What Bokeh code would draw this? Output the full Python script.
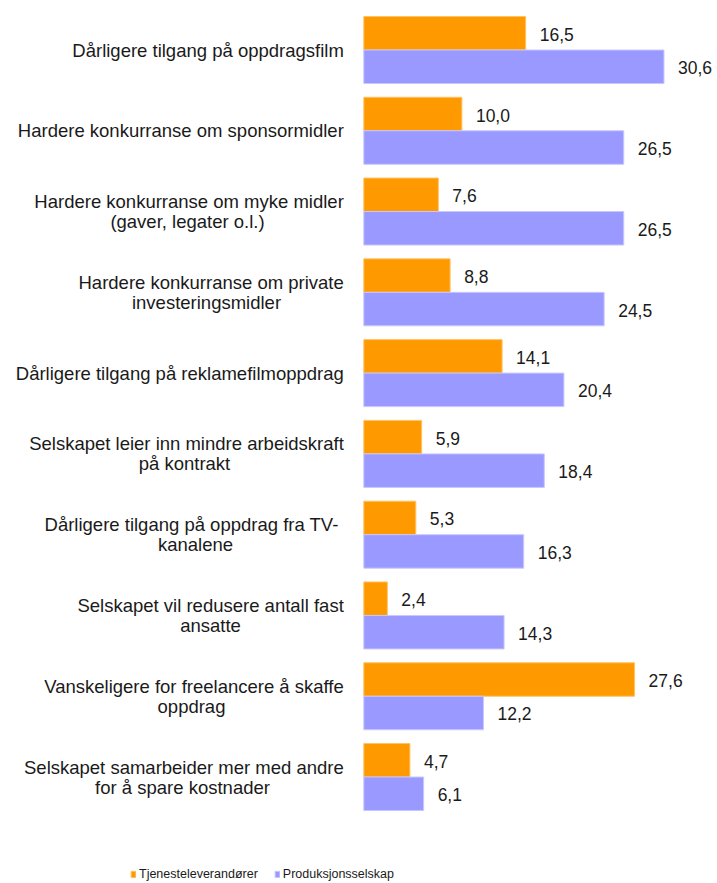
from bokeh.plotting import figure
from bokeh.models import Range1d, ColumnDataSource, Legend, LegendItem
from bokeh.core.properties import value
from bokeh.embed import file_html
from bokeh.resources import INLINE

# ---- data ----
categories = [
    "Dårligere tilgang på oppdragsfilm",
    "Hardere konkurranse om sponsormidler",
    "Hardere konkurranse om myke midler\n(gaver, legater o.l.)",
    "Hardere konkurranse om private\ninvesteringsmidler",
    "Dårligere tilgang på reklamefilmoppdrag",
    "Selskapet leier inn mindre arbeidskraft\npå kontrakt",
    "Dårligere tilgang på oppdrag  fra TV-\nkanalene",
    "Selskapet vil redusere antall fast\nansatte",
    "Vanskeligere for freelancere å skaffe\noppdrag",
    "Selskapet samarbeider mer med andre\nfor å spare kostnader",
]
series_names = ["Tjenesteleverandører", "Produksjonsselskap"]
tjeneste = [16.5, 10.0, 7.6, 8.8, 14.1, 5.9, 5.3, 2.4, 27.6, 4.7]
produksjon = [30.6, 26.5, 26.5, 24.5, 20.4, 18.4, 16.3, 14.3, 12.2, 6.1]

# ---- layout constants ----
W, H = 717, 883
PX_PER_UNIT = 9.81
BAR_LEFT = 363.3          # screen x of value 0
GROUP0 = 49.5             # screen y of first group centre
PITCH = 80.78             # px between groups
BAR_H = 33.5 / PITCH      # bar thickness in data units
FONT_NAME = "Liberation Sans"
FONT = value(FONT_NAME)
LINE2_CENTER = [None, None, 187, 206, None, 184, 195, 210, 191, 182]  # screen px

ORANGE = "#FF9900"
PURPLE = "#9999FF"

x0 = -BAR_LEFT / PX_PER_UNIT
x1 = (W - BAR_LEFT) / PX_PER_UNIT
y_top = -GROUP0 / PITCH
y_bot = (H - GROUP0) / PITCH

p = figure(width=W, height=H, output_backend="svg", toolbar_location=None,
           x_range=Range1d(x0, x1), y_range=Range1d(y_bot, y_top),
           x_axis_location=None, y_axis_location=None, min_border=0)
p.outline_line_color = None
p.grid.visible = False
p.background_fill_color = "white"
p.border_fill_color = "white"

idx = list(range(len(categories)))
src_t = ColumnDataSource(dict(
    y=[i - BAR_H / 2 for i in idx], v=tjeneste,
    lab=[f"{v:.1f}".replace(".", ",") for v in tjeneste]))
src_p = ColumnDataSource(dict(
    y=[i + BAR_H / 2 for i in idx], v=produksjon,
    lab=[f"{v:.1f}".replace(".", ",") for v in produksjon]))

r_t = p.hbar(y="y", right="v", left=0, height=BAR_H, source=src_t,
             fill_color=ORANGE, line_color="#FFC466", line_width=1)
r_p = p.hbar(y="y", right="v", left=0, height=BAR_H, source=src_p,
             fill_color=PURPLE, line_color="#C8C8FF", line_width=1)

for src in (src_t, src_p):
    p.text(x="v", y="y", text="lab", source=src, x_offset=14, y_offset=1,
           text_align="left", text_baseline="middle", text_font=FONT,
           text_font_size="17.5px", text_color="#1a1a1a")

# category labels
l1_y, l1_t, l1_off = [], [], []
l2_y, l2_t, l2_off = [], [], []
for i, c in enumerate(categories):
    lines = c.split("\n")
    if len(lines) == 1:
        l1_y.append(i); l1_t.append(lines[0]); l1_off.append(0)
    else:
        l1_y.append(i); l1_t.append(lines[0]); l1_off.append(-10)
        l2_y.append(i); l2_t.append(lines[1]); l2_off.append(10)
l2_x = [c - BAR_LEFT for c in LINE2_CENTER if c is not None]

p.text(x=0, y=l1_y, text=l1_t, y_offset=l1_off, x_offset=-20,
       text_align="right", text_baseline="middle", text_font=FONT,
       text_font_size="18.5px", text_color="#1a1a1a")
p.text(x=0, y=l2_y, text=l2_t, y_offset=l2_off, x_offset=l2_x,
       text_align="center", text_baseline="middle", text_font=FONT,
       text_font_size="18.5px", text_color="#1a1a1a")

legend = Legend(items=[LegendItem(label=series_names[0], renderers=[r_t]),
                       LegendItem(label=series_names[1], renderers=[r_p])],
                orientation="horizontal", location=(130, 2),
                glyph_width=6, glyph_height=8, label_standoff=3, spacing=16,
                padding=0, margin=0, label_height=14,
                label_text_font=FONT_NAME, label_text_font_size="12.5px",
                label_text_color="#1a1a1a",
                border_line_color=None, background_fill_alpha=0)
p.add_layout(legend)

open("out.html", "w").write(file_html(p, INLINE))
